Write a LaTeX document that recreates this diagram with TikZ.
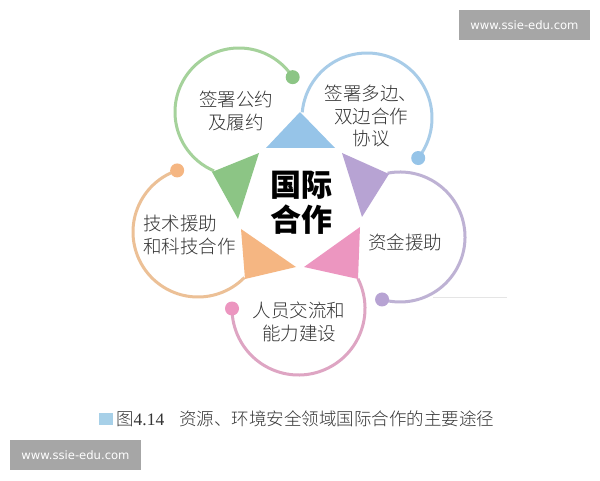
\documentclass[tikz,border=0pt]{standalone}
\usepackage{fontspec}
\setmainfont{Liberation Serif}
\newfontfamily\cjk{Noto Sans CJK SC}
\newfontfamily\cjklight{Noto Sans CJK SC Light}
\newfontfamily\wmfont{DejaVu Sans}
\definecolor{gT}{HTML}{8CC585}
\definecolor{gA}{HTML}{A5D29B}
\definecolor{bT}{HTML}{96C4E8}
\definecolor{bA}{HTML}{A8CCE8}
\definecolor{pT}{HTML}{B7A3D3}
\definecolor{pA}{HTML}{BEB2D4}
\definecolor{oT}{HTML}{F5B682}
\definecolor{oA}{HTML}{ECC096}
\definecolor{kT}{HTML}{EC96C0}
\definecolor{kA}{HTML}{DEA5C3}
\definecolor{txt}{HTML}{333333}
\definecolor{wmgray}{HTML}{A6A6A6}
\definecolor{capsq}{HTML}{A7D0E8}
\tikzset{
  ring/.style={line width=3pt},
  label/.style={font=\cjklight\fontsize{18.5}{22.5}\selectfont, text=txt, inner sep=0pt},
  wmbox/.style={fill=wmgray, draw=none},
  wmtext/.style={font=\wmfont\fontsize{11.6}{13}\selectfont, text=white, inner sep=0pt}
}
\begin{document}
\begin{tikzpicture}[x=1pt,y=1pt]
\useasboundingbox (0,0) rectangle (600,480);
\fill[white] (0,0) rectangle (600,480);

% faint line
\draw[gray!20, line width=1pt] (433,183) -- (507,183);

% rings
\draw[ring, gA] (239,368) ++(33:64) arc[start angle=33, end angle=247, radius=64];
\fill[gT] (239,368) ++(33:64) circle[radius=7];

\draw[ring, bA] (367,362) ++(-38:65) arc[start angle=-38, end angle=175, radius=65];
\fill[bT] (367,362) ++(-38:65) circle[radius=7];

\draw[ring, pA] (400,243) ++(101:65) arc[start angle=101, end angle=-106, radius=65];
\fill[pT] (400,243) ++(-106:65) circle[radius=7];

\draw[ring, kA] (298.5,171.5) ++(26.6:66.5) arc[start angle=26.6, end angle=-180, radius=66.5];
\fill[kT] (298.5,171.5) ++(180:66.5) circle[radius=7];

\draw[ring, oA] (198,248) ++(108.7:65) arc[start angle=108.7, end angle=315.6, radius=65];
\fill[oT] (198,248) ++(108.7:65) circle[radius=7];

% triangles
\fill[bT] (300,368) -- (266,332) -- (335,332) -- cycle;
\fill[gT] (212,308) -- (259,327) -- (238,261) -- cycle;
\fill[pT] (342,327) -- (389,306) -- (362,263) -- cycle;
\fill[oT] (241,251) -- (296,213) -- (245,201) -- cycle;
\fill[kT] (360,253) -- (358,201) -- (304,213) -- cycle;

% texts
\node[font=\cjk\bfseries\fontsize{31}{35}\selectfont, align=center, inner sep=0pt] (center) at (301,277) {国际\\合作};
\node[label, align=center] (t1) at (236,369) {签署公约\\及履约};
\node[label, align=center] (t2) at (371,364) {签署多边、\\双边合作\\协议};
\node[label] (t3) at (405,238) {资金援助};
\node[label, align=left, anchor=west] (t4) at (143,245) {技术援助\\和科技合作};
\node[label, align=center] (t5) at (299,158) {人员交流和\\能力建设};

% caption
\fill[capsq] (99,55) rectangle (113,67);
\node[anchor=west, inner sep=0pt, text=txt, font=\fontsize{17.5}{20}\selectfont] (cap) at (116,61)
  {{\cjklight 图}4.14\hspace{15pt}{\cjklight 资源、环境安全领域国际合作的主要途径}};

% watermarks
\fill[wmbox] (459,440) rectangle (590,470);
\node[wmtext] (wm1) at (524.5,455) {www.ssie-edu.com};
\fill[wmbox] (10,10) rectangle (141,40);
\node[wmtext] (wm2) at (75.5,25) {www.ssie-edu.com};
\end{tikzpicture}
\end{document}
